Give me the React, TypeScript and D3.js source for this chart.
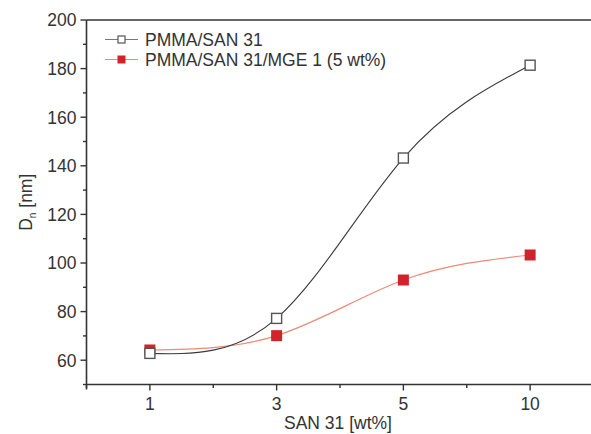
import React from "react";
import * as d3 from "d3";

const categories = ["1", "3", "5", "10"];
const pmmaSan = [62.8, 77.2, 143.2, 181.4];
const pmmaSanMge = [64.2, 70.1, 93.0, 103.3];
const yTicks = [60, 80, 100, 120, 140, 160, 180, 200];
const seriesNames = ["PMMA/SAN 31", "PMMA/SAN 31/MGE 1 (5 wt%)"];

const W = 591, H = 434;
const left = 86.5, right = 593.5, top = 20, bottom = 384.5;
const axisColor = "#333";
const font = "Liberation Sans, Arial, sans-serif";
const fs = 17.5;

export default function App() {
  const x = d3.scaleLinear().domain([-0.5, categories.length - 0.5]).range([left, right]);
  const y = d3.scaleLinear().domain([50, 200]).range([bottom, top]);
  const line = d3
    .line<number>()
    .x((_, i) => x(i))
    .y((d) => y(d))
    .curve(d3.curveNatural);
  const minorY = d3.range(50, 200, 10).filter((v) => v % 20 !== 0);
  const minorX = d3.range(-0.5, categories.length, 1);
  const blackStroke = "#3a3a3a";
  const redLine = "#ec8a78";
  const redFill = "#d0232a";
  const ly1 = 39.5, ly2 = 59.5;

  return (
    <svg width={W} height={H} style={{ position: "absolute", left: 0, top: 0, background: "#fff" }}>
      <rect width={W} height={H} fill="#fff" />
      {/* frame */}
      <line x1={left} x2={right} y1={top} y2={top} stroke={axisColor} strokeWidth={1.6} />
      <line x1={left} x2={left} y1={top} y2={bottom + 5} stroke={axisColor} strokeWidth={1.6} />
      <line x1={left} x2={right} y1={bottom} y2={bottom} stroke={axisColor} strokeWidth={1.6} />
      {/* y ticks */}
      {yTicks.map((t) => (
        <g key={t}>
          <line x1={left - 6} x2={left} y1={y(t)} y2={y(t)} stroke={axisColor} strokeWidth={1.4} />
          <text x={left - 10} y={y(t)} dy="0.36em" textAnchor="end" fontSize={fs} fontFamily={font} fill={axisColor}>
            {t}
          </text>
        </g>
      ))}
      {minorY.map((t) => (
        <line key={t} x1={left - 3.5} x2={left} y1={y(t)} y2={y(t)} stroke={axisColor} strokeWidth={1.4} />
      ))}
      {/* x ticks */}
      {categories.map((c, i) => (
        <g key={c}>
          <line x1={x(i)} x2={x(i)} y1={bottom} y2={bottom + 6} stroke={axisColor} strokeWidth={1.4} />
          <text x={x(i)} y={bottom + 25} textAnchor="middle" fontSize={fs} fontFamily={font} fill={axisColor}>
            {c}
          </text>
        </g>
      ))}
      {minorX.map((v) => (
        <line key={v} x1={x(v)} x2={x(v)} y1={bottom} y2={bottom + 3.5} stroke={axisColor} strokeWidth={1.4} />
      ))}
      {/* axis titles */}
      <text x={(left + right) / 2 - 2} y={429} textAnchor="middle" fontSize={fs} fontFamily={font} fill={axisColor}>
        SAN 31 [wt%]
      </text>
      <text
        transform={`translate(32, ${(top + bottom) / 2}) rotate(-90)`}
        textAnchor="middle"
        fontSize={fs}
        fontFamily={font}
        fill={axisColor}
      >
        D<tspan fontSize={10} dy={4}>n</tspan>
        <tspan dy={-4}> [nm]</tspan>
      </text>
      {/* lines */}
      <path d={line(pmmaSanMge) || ""} fill="none" stroke={redLine} strokeWidth={1.2} />
      <path d={line(pmmaSan) || ""} fill="none" stroke={blackStroke} strokeWidth={1.1} />
      {pmmaSanMge.map((v, i) => (
        <rect key={"r" + i} x={x(i) - 5.5} y={y(v) - 5.5} width={11} height={11} fill={redFill} />
      ))}
      {pmmaSan.map((v, i) => (
        <rect
          key={"b" + i}
          x={x(i) - 5}
          y={y(v) - 5}
          width={10}
          height={10}
          fill="#fff"
          stroke="#555"
          strokeWidth={1.4}
        />
      ))}
      {/* legend */}
      <line x1={105} x2={138} y1={ly1} y2={ly1} stroke="#777" strokeWidth={1.2} />
      <rect x={118} y={ly1 - 3.5} width={7} height={7} fill="#fff" stroke="#555" strokeWidth={1.2} />
      <text x={145} y={ly1} dy="0.36em" fontSize={fs} fontFamily={font} fill={axisColor}>
        {seriesNames[0]}
      </text>
      <line x1={105} x2={138} y1={ly2} y2={ly2} stroke={redLine} strokeWidth={1.2} />
      <rect x={117.5} y={ly2 - 4} width={8} height={8} fill={redFill} />
      <text x={145} y={ly2} dy="0.36em" fontSize={fs} fontFamily={font} fill={axisColor}>
        {seriesNames[1]}
      </text>
    </svg>
  );
}
